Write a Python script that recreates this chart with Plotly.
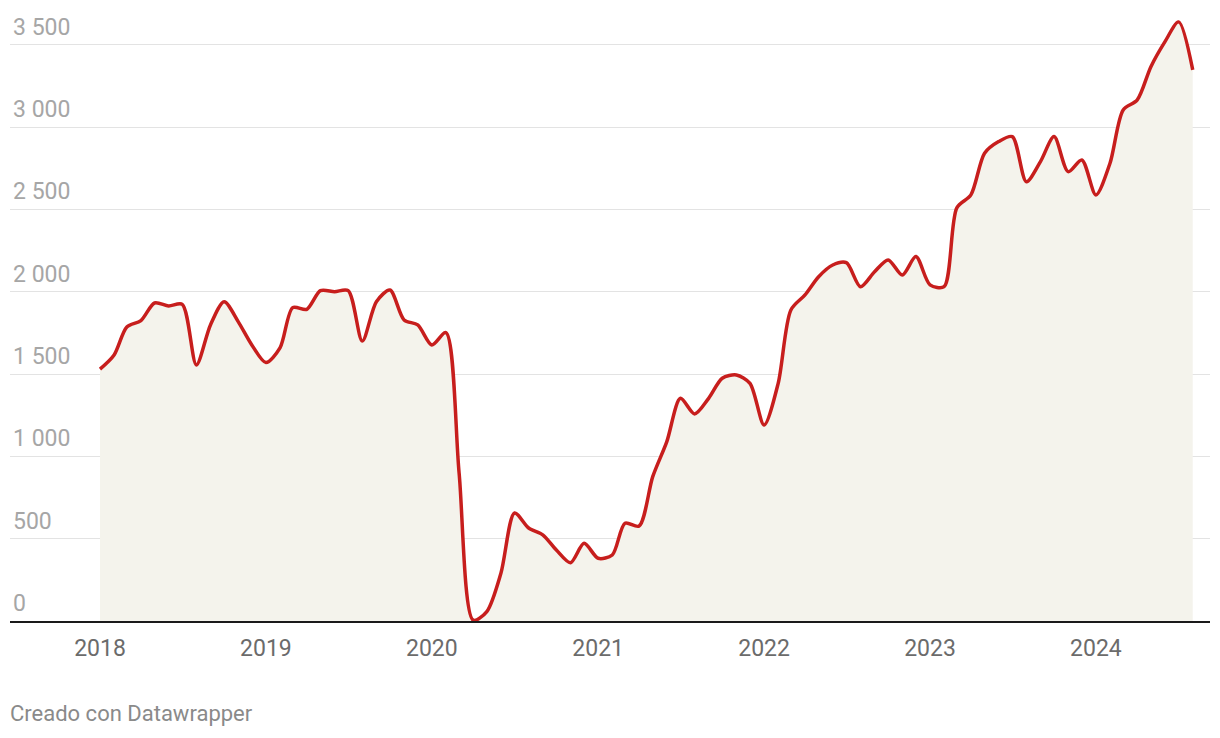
import pandas as pd
import plotly.graph_objects as go

start = "2018-01-01"
values = [
    1530, 1616, 1786, 1825, 1932, 1914, 1924, 1556, 1799, 1940, 1819, 1677,
    1570, 1659, 1904, 1894, 2007, 2001, 2007, 1701, 1940, 2011, 1829, 1799,
    1677, 1752, 900, 5, 57, 290, 656, 565, 523, 431, 354, 472,
    381, 401, 594, 577, 877, 1090, 1353, 1258, 1353, 1475, 1495, 1444,
    1191, 1444, 1890, 1981, 2092, 2163, 2177, 2031, 2122, 2194, 2102, 2214,
    2042, 2031, 2510, 2589, 2842, 2913, 2943, 2669, 2791, 2943, 2730, 2801,
    2589, 2781, 3105, 3166, 3368, 3520, 3640, 3348,
]
dates = pd.date_range(start, periods=len(values), freq="MS")

y_ticks = [0, 500, 1000, 1500, 2000, 2500, 3000, 3500]
y_ticktext = ["0", "500", "1\u00a0000", "1\u00a0500", "2\u00a0000", "2\u00a0500", "3\u00a0000", "3\u00a0500"]
x_ticks = ["2018-01-01", "2019-01-01", "2020-01-01", "2021-01-01", "2022-01-01", "2023-01-01", "2024-01-01"]
x_ticktext = ["2018", "2019", "2020", "2021", "2022", "2023", "2024"]

fig = go.Figure()
fig.add_trace(go.Scatter(
    x=dates, y=values, mode="lines",
    line=dict(color="#c71e1d", width=3.5, shape="spline", smoothing=0.8),
    fill="tozeroy", fillcolor="#f4f3ec",
    hoverinfo="skip",
))

fig.update_layout(
    width=1220, height=738,
    margin=dict(l=10, r=10, t=0, b=117),
    paper_bgcolor="white", plot_bgcolor="white",
    showlegend=False,
    font=dict(family="Roboto, sans-serif"),
    xaxis=dict(
        range=["2017-06-17", "2024-09-08"],
        tickvals=x_ticks, ticktext=x_ticktext,
        showgrid=False, zeroline=False,
        showline=True, linecolor="#1a1a1a", linewidth=2,
        ticks="outside", ticklen=5, tickcolor="rgba(0,0,0,0)",
        tickfont=dict(size=23, color="#6b6b6b"),
    ),
    yaxis=dict(
        range=[0, 3773],
        tickvals=y_ticks, ticktext=y_ticktext,
        showgrid=True, gridcolor="#e3e3e3", gridwidth=1,
        zeroline=False, showline=False,
        ticklabelposition="inside top",
        ticklabelshift=-2,
        tickfont=dict(size=23, color="#a6a6a6"),
        ticks="",
    ),
    annotations=[dict(
        text="Creado con Datawrapper", xref="paper", yref="paper",
        x=-0.0015, y=-0.1495, xanchor="left", yanchor="middle", showarrow=False,
        font=dict(size=22, color="#8a8a8a"),
    )],
)

fig.write_html("out.html")
